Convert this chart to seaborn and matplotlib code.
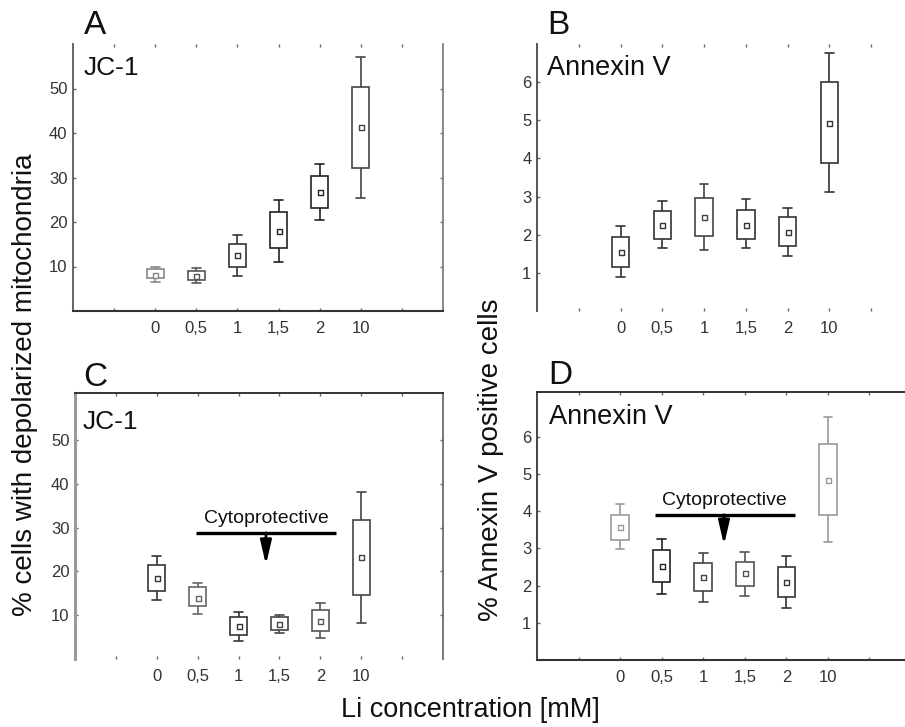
import numpy as np
import pandas as pd
import matplotlib
matplotlib.use("Agg")
import matplotlib.pyplot as plt
import seaborn as sns

# Lithium concentrations (mM) on the x axis
conc_labels = ["0", "0,5", "1", "1,5", "2", "10"]

# Panel A: JC-1, % cells with depolarized mitochondria
a_low = [6.5, 6.3, 7.9, 11.0, 20.5, 25.5]
a_q1 = [7.5, 6.9, 10.0, 14.1, 23.1, 32.2]
a_mean = [8.2, 7.9, 12.5, 18.0, 26.7, 41.3]
a_q3 = [9.4, 9.0, 15.1, 22.2, 30.3, 50.4]
a_high = [10.0, 9.6, 17.1, 24.9, 33.0, 57.1]

# Panel B: Annexin V, % positive cells
b_low = [0.88, 1.66, 1.59, 1.64, 1.44, 3.12]
b_q1 = [1.16, 1.90, 1.97, 1.90, 1.71, 3.88]
b_mean = [1.55, 2.26, 2.47, 2.25, 2.06, 4.94]
b_q3 = [1.94, 2.62, 2.97, 2.66, 2.46, 6.00]
b_high = [2.22, 2.89, 3.33, 2.93, 2.70, 6.77]

# Panel C: JC-1 with cytoprotective treatment
c_low = [13.5, 10.3, 4.0, 5.9, 4.9, 8.2]
c_q1 = [15.6, 12.0, 5.5, 6.6, 6.5, 14.6]
c_mean = [18.4, 14.0, 7.6, 8.0, 8.7, 23.2]
c_q3 = [21.4, 16.5, 9.5, 9.5, 11.2, 31.7]
c_high = [23.5, 17.3, 10.7, 10.0, 12.7, 38.1]

# Panel D: Annexin V with cytoprotective treatment
d_low = [2.98, 1.77, 1.57, 1.72, 1.40, 3.16]
d_q1 = [3.22, 2.10, 1.85, 2.00, 1.68, 3.89]
d_mean = [3.56, 2.53, 2.22, 2.34, 2.10, 4.84]
d_q3 = [3.89, 2.95, 2.60, 2.64, 2.51, 5.80]
d_high = [4.18, 3.24, 2.88, 2.89, 2.79, 6.54]

# Line shade of each box (per concentration) in every panel
a_shade = ["#888888", "#555555", "#333333", "#222222", "#222222", "#444444"]
b_shade = ["#333333", "#333333", "#444444", "#333333", "#333333", "#333333"]
c_shade = ["#333333", "#666666", "#333333", "#444444", "#555555", "#444444"]
d_shade = ["#999999", "#222222", "#444444", "#555555", "#333333", "#999999"]

# Cytoprotective bracket: bar span, bar level, arrow position and tip
c_bar_x = (0.96, 4.39)
c_bar_y = 28.8
c_arrow_x = 2.67
c_arrow_tip = 21.5
d_bar_x = (0.84, 4.2)
d_bar_y = 3.9
d_arrow_x = 2.5
d_arrow_tip = 3.09

W, H = 905, 727
sns.set_theme(style="white")
plt.rcParams["font.family"] = ["Liberation Sans", "DejaVu Sans"]

fig = plt.figure(figsize=(W / 100, H / 100), dpi=100)


def px_axes(left, top, right, bottom):
    return fig.add_axes([left / W, 1 - bottom / H, (right - left) / W, (bottom - top) / H])


def long_table(low, q1, mid, q3, high):
    rows = []
    for i, lab in enumerate(conc_labels):
        for v in (low[i], q1[i], mid[i], q3[i], high[i]):
            rows.append({"conc": lab, "value": v})
    return pd.DataFrame(rows)


line_col = "#222222"


def draw_panel(ax, low, q1, mid, q3, high, shades, ylim, yticks):
    df = long_table(low, q1, mid, q3, high)
    sns.boxplot(data=df, x="conc", y="value", order=conc_labels, ax=ax,
                whis=(0, 100), width=0.42, color="white", linecolor=line_col,
                linewidth=1.2, showfliers=False,
                medianprops={"visible": False})
    boxes = ax.containers[-1]
    for i, col in enumerate(shades):
        boxes.boxes[i].set_edgecolor(col)
        for art in (boxes.whiskers[2 * i], boxes.whiskers[2 * i + 1],
                    boxes.caps[2 * i], boxes.caps[2 * i + 1]):
            art.set_color(col)
    # Mean markers: small open squares at each concentration
    n_before = len(ax.collections)
    means = pd.DataFrame({"conc": conc_labels, "value": mid})
    sns.stripplot(data=means, x="conc", y="value", order=conc_labels, ax=ax,
                  jitter=False, marker="s", size=3.6, color="white",
                  edgecolor=line_col, linewidth=1.0, zorder=5)
    new_points = ax.collections[n_before:]
    if len(new_points) == len(shades):
        for coll, col in zip(new_points, shades):
            coll.set_edgecolor(col)
    elif len(new_points) == 1:
        new_points[0].set_edgecolors(shades)
    ax.set_xlim(-2, 7)
    ax.set_ylim(*ylim)
    ax.set_xticks(range(-1, 7))
    ax.set_xticklabels([""] + conc_labels + [""])
    ax.set_yticks(yticks)
    ax.set_yticklabels([str(t) for t in yticks])
    ax.set_xlabel("")
    ax.set_ylabel("")
    ax.tick_params(axis="both", direction="in", length=2.5, width=1,
                   color="#666666", labelcolor="#333333", labelsize=12,
                   top=True, right=True, bottom=True, left=True)
    ax.tick_params(axis="x", pad=7)
    ax.tick_params(axis="y", pad=4)
    ax.grid(False)
    ax.set_facecolor("white")


def style_spines(ax, spec):
    for side in ("left", "right", "top", "bottom"):
        if side in spec:
            col, lw = spec[side]
            ax.spines[side].set_visible(True)
            ax.spines[side].set_color(col)
            ax.spines[side].set_linewidth(lw)
        else:
            ax.spines[side].set_visible(False)


ax_a = px_axes(73, 44, 443, 311)
draw_panel(ax_a, a_low, a_q1, a_mean, a_q3, a_high, a_shade, (0, 60), [10, 20, 30, 40, 50])
style_spines(ax_a, {"left": ("#666666", 1.4), "bottom": ("#333333", 1.5), "right": ("#888888", 1.4)})

ax_b = px_axes(537, 44, 913, 311)
draw_panel(ax_b, b_low, b_q1, b_mean, b_q3, b_high, b_shade, (0, 7), [1, 2, 3, 4, 5, 6])
style_spines(ax_b, {"left": ("#555555", 1.4)})

ax_c = px_axes(75, 393, 443, 659)
draw_panel(ax_c, c_low, c_q1, c_mean, c_q3, c_high, c_shade, (0, 60.7), [10, 20, 30, 40, 50])
style_spines(ax_c, {"left": ("#999999", 2.2), "top": ("#333333", 1.4), "right": ("#777777", 1.4)})

ax_d = px_axes(537, 392, 911, 660)
draw_panel(ax_d, d_low, d_q1, d_mean, d_q3, d_high, d_shade, (0, 7.2), [1, 2, 3, 4, 5, 6])
style_spines(ax_d, {"left": ("#444444", 1.4), "top": ("#333333", 1.4), "bottom": ("#333333", 1.5)})


def cytoprotective(ax, bar_x, bar_y, arrow_x, tip_y, text_gap):
    ax.plot(bar_x, [bar_y, bar_y], color="black", lw=2.4, solid_capstyle="butt", zorder=6)
    ax.annotate("", xy=(arrow_x, tip_y), xytext=(arrow_x, bar_y),
                arrowprops=dict(arrowstyle="-|>,head_length=1.2,head_width=0.28",
                                color="black", lw=2.0, shrinkA=0, shrinkB=0), zorder=6)
    ax.text(arrow_x, bar_y + text_gap, "Cytoprotective", ha="center", va="bottom",
            fontsize=14, color="#111111")


cytoprotective(ax_c, c_bar_x, c_bar_y, c_arrow_x, c_arrow_tip, 1.3)
cytoprotective(ax_d, d_bar_x, d_bar_y, d_arrow_x, d_arrow_tip, 0.15)


def fig_text(x, y, s, **kw):
    fig.text(x / W, 1 - y / H, s, **kw)


# Panel letters
for (x, y, s) in [(95, 25, "A"), (558, 25, "B"), (95, 377, "C"), (560, 375, "D")]:
    fig_text(x, y, s, ha="center", va="center", fontsize=24, color="#111111")

# Assay names inside the panels
fig_text(84, 68, "JC-1", ha="left", va="center", fontsize=19, color="#111111")
fig_text(547, 68, "Annexin V", ha="left", va="center", fontsize=19.5, color="#111111")
fig_text(83, 422, "JC-1", ha="left", va="center", fontsize=19, color="#111111")
fig_text(549, 417, "Annexin V", ha="left", va="center", fontsize=19.5, color="#111111")

# Shared axis titles
fig_text(25, 385, "% cells with depolarized mitochondria", rotation=90,
         ha="center", va="center", fontsize=20, color="#111111")
fig_text(491, 460, "% Annexin V positive cells", rotation=90,
         ha="center", va="center", fontsize=20, color="#111111")
fig_text(470, 710, "Li concentration [mM]", ha="center", va="center",
         fontsize=19.5, color="#111111")

fig.savefig("out.png", dpi=100, facecolor="white")
